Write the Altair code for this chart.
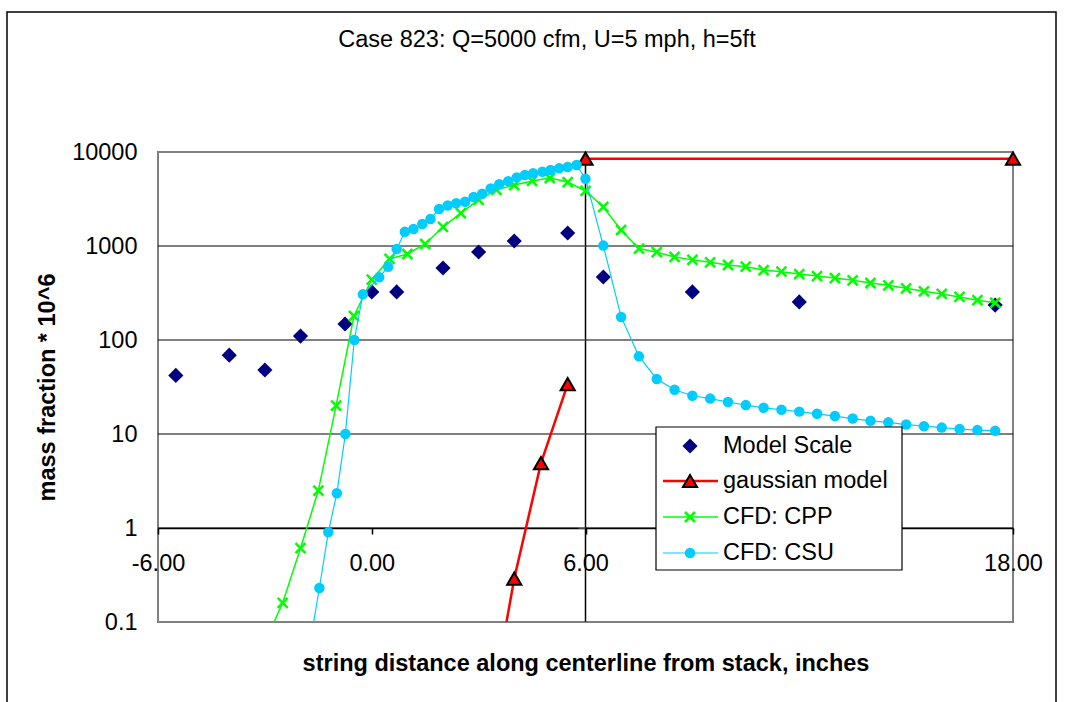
import altair as alt
import pandas as pd

FONT = "Liberation Sans"

# ---------------- data ----------------
title_text = ["Case 823: Q=5000 cfm, U=5 mph, h=5ft"]
x_title = "string distance along centerline from stack, inches"
y_title = "mass fraction * 10^6"
series_names = ["Model Scale", "gaussian model", "CFD: CPP", "CFD: CSU"]

# the 12.00 label lies under the legend box in the original, so it is not shown
x_ticks = [-6, 0, 6, 18]
y_ticks = [0.1, 1, 10, 100, 1000, 10000]
grid_values = [1, 10, 100, 1000]
axis_cross_x = [6]

ms_x = [-5.5, -4.0, -3.0, -2.0, -0.75, 0.0, 0.7, 2.0, 3.0, 4.0, 5.5, 6.5, 9.0, 12.0, 17.5]
ms_y = [42, 69, 48, 110, 148, 325, 325, 583, 864, 1130, 1375, 468, 325, 254, 235]

gauss_x = [3.25, 4.0, 4.75, 5.5, 6.0, 18.0]
gauss_y = [0.0074, 0.29, 4.9, 34, 8500, 8500]
gauss_part = [0, 0, 0, 0, 1, 1]

cpp_x = [-3.0, -2.5, -2.0, -1.5, -1.0, -0.5, 0.0, 0.5, 1.0, 1.5, 2.0, 2.5, 3.0, 3.5,
         4.0, 4.5, 5.0, 5.5, 6.0, 6.5, 7.0, 7.5, 8.0, 8.5, 9.0, 9.5, 10.0, 10.5,
         11.0, 11.5, 12.0, 12.5, 13.0, 13.5, 14.0, 14.5, 15.0, 15.5, 16.0, 16.5,
         17.0, 17.5]
cpp_y = [0.06, 0.16, 0.61, 2.5, 20, 180, 440, 728, 822, 1050, 1600, 2240, 3100, 3960,
         4450, 4920, 5290, 4790, 3850, 2600, 1480, 940, 860, 764, 712, 670, 628, 603,
         555, 533, 503, 479, 456, 431, 404, 382, 355, 330, 309, 287, 265, 249]

csu_x = [-1.75, -1.47, -1.22, -0.98, -0.74, -0.49, -0.25,
         0.21, 0.46, 0.70, 0.93, 1.17, 1.42, 1.65, 1.89, 2.13, 2.37, 2.62, 2.86,
         3.10, 3.34, 3.58, 3.83, 4.07, 4.30, 4.53, 4.79, 5.02, 5.26, 5.50, 5.75,
         6.0, 6.5, 7.0, 7.5, 8.0, 8.5, 9.0, 9.5, 10.0, 10.5, 11.0, 11.5, 12.0,
         12.5, 13.0, 13.5, 14.0, 14.5, 15.0, 15.5, 16.0, 16.5, 17.0, 17.5]
csu_y = [0.054, 0.23, 0.9, 2.34, 10, 100, 306,
         464, 600, 929, 1420, 1515, 1715, 1940, 2475, 2690, 2850, 2960, 3320,
         3600, 4100, 4530, 4900, 5370, 5690, 5930, 6170, 6430, 6700, 6920, 7270,
         5200, 1010, 176, 67, 38.5, 29.6, 25.5, 23.8, 21.9, 20.3, 19.0, 18.1, 17.3,
         16.4, 15.5, 14.6, 13.8, 13.3, 12.6, 12.1, 11.7, 11.3, 11.0, 10.8]

# ---------------- layout ----------------
W, H = 855, 470
FS = 23.5

xscale = alt.Scale(domain=[-6, 18], nice=False, zero=False)
yscale = alt.Scale(type="log", domain=[0.1, 10000], nice=False)

xaxis = alt.Axis(values=x_ticks,
                 labelExpr="(datum.value < 0 ? '-' : '') + format(abs(datum.value), '.2f')",
                 offset=-H / 5, grid=False,
                 domain=True, domainColor="black", domainWidth=1.5,
                 ticks=True, tickColor="black", tickSize=6, tickWidth=1.5,
                 labelFont=FONT, labelFontSize=FS, labelColor="black",
                 labelPadding=17, labelFlush=False, labelOverlap=False,
                 title=x_title, titleFont=FONT, titleFontSize=FS,
                 titleFontWeight="bold", titleColor="black",
                 titleY=135, titleBaseline="middle")
yaxis = alt.Axis(values=y_ticks, format="~g", grid=False, domain=False,
                 ticks=False, tickSize=0,
                 labelFont=FONT, labelFontSize=FS, labelColor="black",
                 labelPadding=21, labelOverlap=False,
                 title=y_title, titleFont=FONT, titleFontSize=FS,
                 titleFontWeight="bold", titleColor="black",
                 titleX=-111, titleBaseline="middle", titleAngle=-90)


def X(f):
    return alt.X(f, type="quantitative", scale=xscale, axis=xaxis)


def Y(f):
    return alt.Y(f, type="quantitative", scale=yscale, axis=yaxis)


one = pd.DataFrame({"a": [0]})

border = alt.Chart(one).mark_rect(fillOpacity=0, stroke="black", strokeWidth=1.5).encode(
    x=alt.value(-151), x2=alt.value(898), y=alt.value(-140), y2=alt.value(570))

grid = alt.Chart(pd.DataFrame({"v": grid_values})).mark_rule(
    color="black", strokeWidth=1).encode(y=Y("v"))

vline = alt.Chart(pd.DataFrame({"v": axis_cross_x})).mark_rule(
    color="black", strokeWidth=1.5).encode(x=X("v"))

vticks = alt.Chart(pd.DataFrame({"x": axis_cross_x * len(y_ticks), "v": y_ticks})).mark_tick(
    orient="horizontal", size=7, thickness=1.5, color="#808080", xOffset=-3.5
).encode(x=X("x"), y=Y("v"))

ms_df = pd.DataFrame({"x": ms_x, "y": ms_y})
g_df = pd.DataFrame({"x": gauss_x, "y": gauss_y, "part": gauss_part})
cpp_df = pd.DataFrame({"x": cpp_x, "y": cpp_y})
csu_df = pd.DataFrame({"x": csu_x, "y": csu_y})

XSHAPE = "M-1,-1L1,1M-1,1L1,-1"
NAVY, RED, GREEN, BLUE = "#000080", "#FF0000", "#00FF00", "#00CCFF"
in_range = alt.datum.y >= 0.1

ms_pts = alt.Chart(ms_df).mark_point(shape="diamond", filled=True, color=NAVY,
                                     size=230, opacity=1).encode(x=X("x"), y=Y("y"))
g_line = alt.Chart(g_df).mark_line(color=RED, strokeWidth=2.5, clip=True).encode(
    x=X("x"), y=Y("y"), detail="part:N")
g_pts = alt.Chart(g_df).transform_filter(in_range).mark_point(
    shape="triangle-up", filled=True, fill=RED, stroke="black",
    strokeWidth=2, size=200, opacity=1).encode(x=X("x"), y=Y("y"))
cpp_line = alt.Chart(cpp_df).mark_line(color=GREEN, strokeWidth=1.5, clip=True).encode(x=X("x"), y=Y("y"))
cpp_pts = alt.Chart(cpp_df).transform_filter(in_range).mark_point(
    shape=XSHAPE, filled=False, stroke=GREEN, strokeWidth=2.5,
    size=100, opacity=1).encode(x=X("x"), y=Y("y"))
csu_line = alt.Chart(csu_df).mark_line(color=BLUE, strokeWidth=1.2, clip=True).encode(x=X("x"), y=Y("y"))
csu_pts = alt.Chart(csu_df).transform_filter(in_range).mark_point(
    shape="circle", filled=True, color=BLUE, size=110,
    opacity=1).encode(x=X("x"), y=Y("y"))

# ---------------- legend ----------------
LX0, LX1, LY0, LY1 = 498, 744, 275, 418
row_y = [294, 329, 365, 401]
sym_x, line_x0, line_x1, text_x = 532, 505, 560, 565

legend_box = alt.Chart(one).mark_rect(fill="white", stroke="black", strokeWidth=1.2).encode(
    x=alt.value(LX0), x2=alt.value(LX1), y=alt.value(LY0), y2=alt.value(LY1))

legend_layers = [legend_box]
styles = [
    (None, 0, dict(shape="diamond", filled=True, color=NAVY, size=230, opacity=1)),
    (RED, 2.5, dict(shape="triangle-up", filled=True, fill=RED, stroke="black", strokeWidth=2, size=200, opacity=1)),
    (GREEN, 1.5, dict(shape=XSHAPE, filled=False, stroke=GREEN, strokeWidth=2.5, size=100, opacity=1)),
    (BLUE, 1.2, dict(shape="circle", filled=True, color=BLUE, size=110, opacity=1)),
]
for i, (lc, lw, pstyle) in enumerate(styles):
    if lc is not None:
        legend_layers.append(alt.Chart(one).mark_rule(color=lc, strokeWidth=lw).encode(
            x=alt.value(line_x0), x2=alt.value(line_x1), y=alt.value(row_y[i])))
    legend_layers.append(alt.Chart(one).mark_point(**pstyle).encode(
        x=alt.value(sym_x), y=alt.value(row_y[i])))
    legend_layers.append(alt.Chart(pd.DataFrame({"t": [series_names[i]]})).mark_text(
        font=FONT, fontSize=FS, color="black", align="left", baseline="middle").encode(
        x=alt.value(text_x), y=alt.value(row_y[i]), text="t:N"))

title = alt.Chart(pd.DataFrame({"t": title_text})).mark_text(
    font=FONT, fontSize=FS, color="black", align="center", baseline="middle").encode(
    x=alt.value(389), y=alt.value(-112), text="t:N")

chart = alt.layer(
    border, grid, vline, vticks,
    ms_pts, g_line, g_pts, cpp_line, cpp_pts, csu_line, csu_pts,
    *legend_layers, title
).properties(
    width=W, height=H,
    autosize=alt.AutoSizeParams(type="none"),
    padding={"left": 158, "top": 152, "right": 1065 - 158 - W, "bottom": 702 - 152 - H},
    background="white",
).configure_view(stroke="#808080", strokeWidth=2)

chart.save("out.html", embed_options={"renderer": "svg", "actions": False})
